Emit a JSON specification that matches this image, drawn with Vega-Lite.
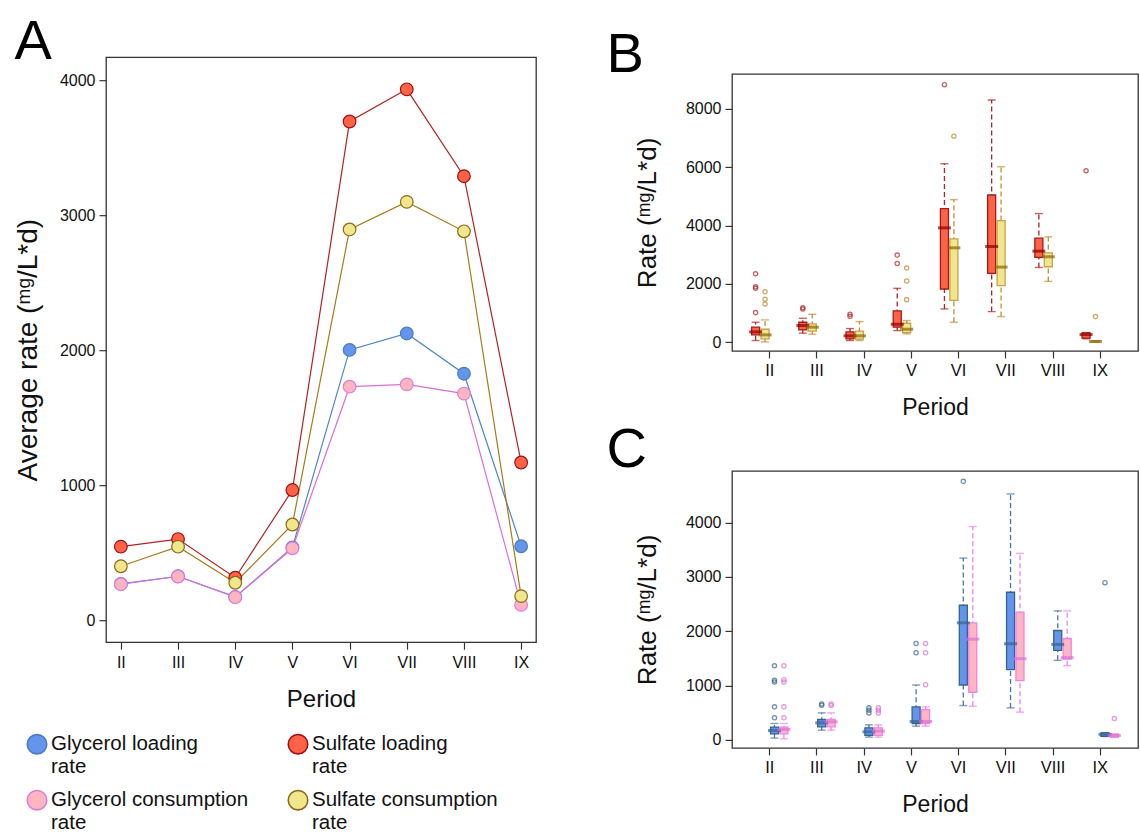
{
  "$schema": "https://vega.github.io/schema/vega-lite/v6.json",
  "padding": {"left": 13, "top": 13, "right": 0, "bottom": 0},
  "background": "white",
  "datasets": {
    "avg": [
      {"period": "II", "series": "Glycerol loading rate", "value": 271},
      {"period": "III", "series": "Glycerol loading rate", "value": 328},
      {"period": "IV", "series": "Glycerol loading rate", "value": 175},
      {"period": "V", "series": "Glycerol loading rate", "value": 541},
      {"period": "VI", "series": "Glycerol loading rate", "value": 2003},
      {"period": "VII", "series": "Glycerol loading rate", "value": 2125},
      {"period": "VIII", "series": "Glycerol loading rate", "value": 1827},
      {"period": "IX", "series": "Glycerol loading rate", "value": 550},
      {"period": "II", "series": "Glycerol consumption rate", "value": 269},
      {"period": "III", "series": "Glycerol consumption rate", "value": 326},
      {"period": "IV", "series": "Glycerol consumption rate", "value": 173},
      {"period": "V", "series": "Glycerol consumption rate", "value": 535},
      {"period": "VI", "series": "Glycerol consumption rate", "value": 1731},
      {"period": "VII", "series": "Glycerol consumption rate", "value": 1748},
      {"period": "VIII", "series": "Glycerol consumption rate", "value": 1680},
      {"period": "IX", "series": "Glycerol consumption rate", "value": 116},
      {"period": "II", "series": "Sulfate loading rate", "value": 547},
      {"period": "III", "series": "Sulfate loading rate", "value": 603},
      {"period": "IV", "series": "Sulfate loading rate", "value": 317},
      {"period": "V", "series": "Sulfate loading rate", "value": 966},
      {"period": "VI", "series": "Sulfate loading rate", "value": 3694},
      {"period": "VII", "series": "Sulfate loading rate", "value": 3932},
      {"period": "VIII", "series": "Sulfate loading rate", "value": 3289},
      {"period": "IX", "series": "Sulfate loading rate", "value": 1170},
      {"period": "II", "series": "Sulfate consumption rate", "value": 402},
      {"period": "III", "series": "Sulfate consumption rate", "value": 547},
      {"period": "IV", "series": "Sulfate consumption rate", "value": 280},
      {"period": "V", "series": "Sulfate consumption rate", "value": 711},
      {"period": "VI", "series": "Sulfate consumption rate", "value": 2895},
      {"period": "VII", "series": "Sulfate consumption rate", "value": 3099},
      {"period": "VIII", "series": "Sulfate consumption rate", "value": 2881},
      {"period": "IX", "series": "Sulfate consumption rate", "value": 181}
    ],
    "boxB": [
      {"period": "II", "series": "Sulfate loading rate", "lo": 57, "q1": 251, "med": 353, "q3": 513, "hi": 684},
      {"period": "III", "series": "Sulfate loading rate", "lo": 308, "q1": 422, "med": 570, "q3": 684, "hi": 820},
      {"period": "IV", "series": "Sulfate loading rate", "lo": 57, "q1": 114, "med": 217, "q3": 353, "hi": 467},
      {"period": "V", "series": "Sulfate loading rate", "lo": 399, "q1": 513, "med": 615, "q3": 1071, "hi": 1846},
      {"period": "VI", "series": "Sulfate loading rate", "lo": 1140, "q1": 1823, "med": 3920, "q3": 4581, "hi": 6120},
      {"period": "VII", "series": "Sulfate loading rate", "lo": 1048, "q1": 2359, "med": 3282, "q3": 5048, "hi": 8308},
      {"period": "VIII", "series": "Sulfate loading rate", "lo": 2564, "q1": 2906, "med": 3122, "q3": 3567, "hi": 4410},
      {"period": "IX", "series": "Sulfate loading rate", "lo": 114, "q1": 137, "med": 262, "q3": 319, "hi": 330},
      {"period": "II", "series": "Sulfate consumption rate", "lo": 10, "q1": 114, "med": 251, "q3": 444, "hi": 764},
      {"period": "III", "series": "Sulfate consumption rate", "lo": 274, "q1": 376, "med": 513, "q3": 627, "hi": 957},
      {"period": "IV", "series": "Sulfate consumption rate", "lo": 57, "q1": 103, "med": 217, "q3": 376, "hi": 707},
      {"period": "V", "series": "Sulfate consumption rate", "lo": 285, "q1": 330, "med": 444, "q3": 650, "hi": 741},
      {"period": "VI", "series": "Sulfate consumption rate", "lo": 684, "q1": 1436, "med": 3236, "q3": 3544, "hi": 4889},
      {"period": "VII", "series": "Sulfate consumption rate", "lo": 877, "q1": 1937, "med": 2575, "q3": 4171, "hi": 6017},
      {"period": "VIII", "series": "Sulfate consumption rate", "lo": 2085, "q1": 2587, "med": 2929, "q3": 3065, "hi": 3613},
      {"period": "IX", "series": "Sulfate consumption rate", "lo": 0, "q1": 10, "med": 25, "q3": 40, "hi": 46}
    ],
    "outB": [
      {"period": "II", "series": "Sulfate loading rate", "value": 2348},
      {"period": "II", "series": "Sulfate loading rate", "value": 1903},
      {"period": "II", "series": "Sulfate loading rate", "value": 1846},
      {"period": "II", "series": "Sulfate loading rate", "value": 1014},
      {"period": "III", "series": "Sulfate loading rate", "value": 1180},
      {"period": "III", "series": "Sulfate loading rate", "value": 1140},
      {"period": "IV", "series": "Sulfate loading rate", "value": 960},
      {"period": "IV", "series": "Sulfate loading rate", "value": 890},
      {"period": "V", "series": "Sulfate loading rate", "value": 2986},
      {"period": "V", "series": "Sulfate loading rate", "value": 2701},
      {"period": "VI", "series": "Sulfate loading rate", "value": 8832},
      {"period": "IX", "series": "Sulfate loading rate", "value": 5880},
      {"period": "II", "series": "Sulfate consumption rate", "value": 1732},
      {"period": "II", "series": "Sulfate consumption rate", "value": 1470},
      {"period": "II", "series": "Sulfate consumption rate", "value": 1310},
      {"period": "V", "series": "Sulfate consumption rate", "value": 2541},
      {"period": "V", "series": "Sulfate consumption rate", "value": 2097},
      {"period": "V", "series": "Sulfate consumption rate", "value": 1459},
      {"period": "VI", "series": "Sulfate consumption rate", "value": 7066},
      {"period": "IX", "series": "Sulfate consumption rate", "value": 877}
    ],
    "boxC": [
      {"period": "II", "series": "Glycerol loading rate", "lo": 31, "q1": 110, "med": 171, "q3": 232, "hi": 300},
      {"period": "III", "series": "Glycerol loading rate", "lo": 177, "q1": 239, "med": 312, "q3": 373, "hi": 495},
      {"period": "IV", "series": "Glycerol loading rate", "lo": 49, "q1": 80, "med": 147, "q3": 220, "hi": 275},
      {"period": "V", "series": "Glycerol loading rate", "lo": 251, "q1": 300, "med": 336, "q3": 606, "hi": 1009},
      {"period": "VI", "series": "Glycerol loading rate", "lo": 630, "q1": 1009, "med": 2153, "q3": 2477, "hi": 3346},
      {"period": "VII", "series": "Glycerol loading rate", "lo": 587, "q1": 1291, "med": 1768, "q3": 2716, "hi": 4526},
      {"period": "VIII", "series": "Glycerol loading rate", "lo": 1462, "q1": 1645, "med": 1755, "q3": 2012, "hi": 2373},
      {"period": "IX", "series": "Glycerol loading rate", "lo": 61, "q1": 61, "med": 100, "q3": 128, "hi": 128},
      {"period": "II", "series": "Glycerol consumption rate", "lo": 18, "q1": 110, "med": 190, "q3": 232, "hi": 300},
      {"period": "III", "series": "Glycerol consumption rate", "lo": 177, "q1": 239, "med": 330, "q3": 373, "hi": 495},
      {"period": "IV", "series": "Glycerol consumption rate", "lo": 49, "q1": 80, "med": 159, "q3": 220, "hi": 275},
      {"period": "V", "series": "Glycerol consumption rate", "lo": 251, "q1": 300, "med": 336, "q3": 557, "hi": 606},
      {"period": "VI", "series": "Glycerol consumption rate", "lo": 618, "q1": 875, "med": 1853, "q3": 2153, "hi": 3927},
      {"period": "VII", "series": "Glycerol consumption rate", "lo": 508, "q1": 1089, "med": 1492, "q3": 2349, "hi": 3431},
      {"period": "VIII", "series": "Glycerol consumption rate", "lo": 1364, "q1": 1486, "med": 1511, "q3": 1865, "hi": 2373},
      {"period": "IX", "series": "Glycerol consumption rate", "lo": 49, "q1": 49, "med": 80, "q3": 104, "hi": 104}
    ],
    "outC": [
      {"period": "II", "series": "Glycerol loading rate", "value": 1364},
      {"period": "II", "series": "Glycerol loading rate", "value": 1095},
      {"period": "II", "series": "Glycerol loading rate", "value": 1064},
      {"period": "II", "series": "Glycerol loading rate", "value": 606},
      {"period": "II", "series": "Glycerol loading rate", "value": 404},
      {"period": "III", "series": "Glycerol loading rate", "value": 660},
      {"period": "III", "series": "Glycerol loading rate", "value": 636},
      {"period": "IV", "series": "Glycerol loading rate", "value": 587},
      {"period": "IV", "series": "Glycerol loading rate", "value": 544},
      {"period": "IV", "series": "Glycerol loading rate", "value": 495},
      {"period": "V", "series": "Glycerol loading rate", "value": 1774},
      {"period": "V", "series": "Glycerol loading rate", "value": 1602},
      {"period": "VI", "series": "Glycerol loading rate", "value": 4758},
      {"period": "IX", "series": "Glycerol loading rate", "value": 2893},
      {"period": "II", "series": "Glycerol consumption rate", "value": 1364},
      {"period": "II", "series": "Glycerol consumption rate", "value": 1107},
      {"period": "II", "series": "Glycerol consumption rate", "value": 1064},
      {"period": "II", "series": "Glycerol consumption rate", "value": 606},
      {"period": "II", "series": "Glycerol consumption rate", "value": 404},
      {"period": "III", "series": "Glycerol consumption rate", "value": 660},
      {"period": "III", "series": "Glycerol consumption rate", "value": 630},
      {"period": "IV", "series": "Glycerol consumption rate", "value": 587},
      {"period": "IV", "series": "Glycerol consumption rate", "value": 544},
      {"period": "IV", "series": "Glycerol consumption rate", "value": 495},
      {"period": "V", "series": "Glycerol consumption rate", "value": 1774},
      {"period": "V", "series": "Glycerol consumption rate", "value": 1602},
      {"period": "V", "series": "Glycerol consumption rate", "value": 1015},
      {"period": "IX", "series": "Glycerol consumption rate", "value": 391}
    ]
  },
  "hconcat": [
    {
      "width": 430,
      "height": 585,
      "title": {"text": "A", "fontSize": 56, "fontWeight": "normal", "anchor": "start", "frame": "bounds", "offset": -5, "dy": 9},
      "data": {"name": "avg"},
      "encoding": {
        "x": {"field": "period", "type": "ordinal", "sort": ["II", "III", "IV", "V", "VI", "VII", "VIII", "IX"], "scale": {"type": "point", "padding": 0.26}, "axis": {"title": "Period", "labelFontSize": 16, "titleFontSize": 24, "labelPadding": 5, "titlePadding": 17}},
        "y": {"field": "value", "type": "quantitative", "title": "Average rate (ᵐᵍ/L*d)", "scale": {"domain": [-160, 4170], "nice": false, "zero": false}, "axis": {"values": [0, 1000, 2000, 3000, 4000], "format": "d", "labelFontSize": 16, "titleFontSize": 28, "labelPadding": 4, "titlePadding": 17}}
      },
      "layer": [
        {
          "mark": {"type": "line", "strokeWidth": 1.2},
          "encoding": {
            "color": {"field": "series", "type": "nominal", "scale": {"domain": ["Glycerol loading rate", "Glycerol consumption rate", "Sulfate loading rate", "Sulfate consumption rate"], "range": ["#4F87C4", "#DA70D6", "#B22222", "#A67C1A"]}, "legend": null}
          }
        },
        {
          "mark": {"type": "point", "shape": "circle", "filled": true, "size": 160, "strokeWidth": 1.2, "opacity": 1},
          "encoding": {
            "fill": {"field": "series", "type": "nominal", "scale": {"domain": ["Glycerol loading rate", "Glycerol consumption rate", "Sulfate loading rate", "Sulfate consumption rate"], "range": ["#6495ED", "#FFB6C1", "#FF6347", "#F0E68C"]}, "legend": {"title": null, "orient": "none", "legendX": -80, "legendY": 676, "columns": 2, "columnPadding": 36, "rowPadding": 10, "symbolSize": 380, "symbolStrokeWidth": 1.6, "labelFontSize": 20.5, "labelOffset": 3, "labelLimit": 400, "labelExpr": "[replace(datum.label, ' rate', ''), 'rate']"}},
            "stroke": {"field": "series", "type": "nominal", "scale": {"domain": ["Glycerol loading rate", "Glycerol consumption rate", "Sulfate loading rate", "Sulfate consumption rate"], "range": ["#4A7EBB", "#E07BE0", "#A01010", "#8B6914"]}, "legend": {"title": null, "orient": "none", "legendX": -80, "legendY": 676, "columns": 2, "columnPadding": 36, "rowPadding": 10, "symbolSize": 380, "symbolStrokeWidth": 1.6, "labelFontSize": 20.5, "labelOffset": 3, "labelLimit": 400, "labelExpr": "[replace(datum.label, ' rate', ''), 'rate']"}}
          }
        }
      ],
      "resolve": {"scale": {"color": "independent", "fill": "independent", "stroke": "independent"}}
    },
    {
      "vconcat": [
        {
          "width": 406,
          "height": 277,
          "title": {"text": ["", "B"], "lineHeight": 10, "fontSize": 56, "fontWeight": "normal", "anchor": "start", "frame": "bounds", "dx": -28, "offset": 0, "dy": 10},
          "encoding": {
            "x": {"field": "period", "type": "nominal", "sort": ["II", "III", "IV", "V", "VI", "VII", "VIII", "IX"], "scale": {"type": "band", "paddingInner": 0, "paddingOuter": 0.3}, "axis": {"title": "Period", "bandPosition": 0.5, "labelFontSize": 16.5, "titleFontSize": 23, "labelPadding": 5, "titlePadding": 17}},
            "xOffset": {"field": "series", "type": "nominal", "scale": {"domain": ["Sulfate loading rate", "Sulfate consumption rate"], "paddingInner": 0.15, "paddingOuter": 0.575}}
          },
          "layer": [
            {
              "data": {"name": "boxB"},
              "mark": {"type": "rule", "strokeDash": [5, 3], "strokeWidth": 1.3},
              "encoding": {
                "y": {"field": "lo", "type": "quantitative", "title": "Rate (ᵐᵍ/L*d)", "scale": {"domain": [-300, 9200], "nice": false, "zero": false}, "axis": {"values": [0, 2000, 4000, 6000, 8000], "format": "d", "labelFontSize": 16, "titleFontSize": 26, "labelPadding": 4, "titlePadding": 25}},
                "y2": {"field": "hi"},
                "color": {"field": "series", "type": "nominal", "scale": {"domain": ["Sulfate loading rate", "Sulfate consumption rate"], "range": ["#B22222", "#C09030"]}, "legend": null}
              }
            },
            {
              "data": {"name": "boxB"},
              "mark": {"type": "tick", "size": 8, "thickness": 1.4},
              "encoding": {
                "y": {"field": "lo", "type": "quantitative", "title": "Rate (ᵐᵍ/L*d)", "scale": {"domain": [-300, 9200], "nice": false, "zero": false}},
                "color": {"field": "series", "type": "nominal", "scale": {"domain": ["Sulfate loading rate", "Sulfate consumption rate"], "range": ["#B22222", "#C09030"]}, "legend": null}
              }
            },
            {
              "data": {"name": "boxB"},
              "mark": {"type": "tick", "size": 8, "thickness": 1.4},
              "encoding": {
                "y": {"field": "hi", "type": "quantitative", "title": "Rate (ᵐᵍ/L*d)", "scale": {"domain": [-300, 9200], "nice": false, "zero": false}},
                "color": {"field": "series", "type": "nominal", "scale": {"domain": ["Sulfate loading rate", "Sulfate consumption rate"], "range": ["#B22222", "#C09030"]}, "legend": null}
              }
            },
            {
              "data": {"name": "boxB"},
              "mark": {"type": "bar", "strokeWidth": 1.3},
              "encoding": {
                "y": {"field": "q1", "type": "quantitative", "title": "Rate (ᵐᵍ/L*d)", "scale": {"domain": [-300, 9200], "nice": false, "zero": false}},
                "y2": {"field": "q3"},
                "fill": {"field": "series", "type": "nominal", "scale": {"domain": ["Sulfate loading rate", "Sulfate consumption rate"], "range": ["#FF6347", "#F0E68C"]}, "legend": null},
                "stroke": {"field": "series", "type": "nominal", "scale": {"domain": ["Sulfate loading rate", "Sulfate consumption rate"], "range": ["#A51B1B", "#C8A050"]}, "legend": null}
              }
            },
            {
              "data": {"name": "boxB"},
              "mark": {"type": "tick", "size": 13, "thickness": 3},
              "encoding": {
                "y": {"field": "med", "type": "quantitative", "title": "Rate (ᵐᵍ/L*d)", "scale": {"domain": [-300, 9200], "nice": false, "zero": false}},
                "color": {"field": "series", "type": "nominal", "scale": {"domain": ["Sulfate loading rate", "Sulfate consumption rate"], "range": ["#8B0000", "#8B6508"]}, "legend": null}
              }
            },
            {
              "data": {"name": "outB"},
              "mark": {"type": "point", "shape": "circle", "filled": false, "size": 18, "strokeWidth": 1.3},
              "encoding": {
                "y": {"field": "value", "type": "quantitative", "title": "Rate (ᵐᵍ/L*d)", "scale": {"domain": [-300, 9200], "nice": false, "zero": false}},
                "color": {"field": "series", "type": "nominal", "scale": {"domain": ["Sulfate loading rate", "Sulfate consumption rate"], "range": ["#B22222", "#B8862B"]}, "legend": null}
              }
            }
          ],
          "resolve": {"scale": {"color": "independent", "fill": "independent", "stroke": "independent"}}
        },
        {
          "width": 406,
          "height": 277,
          "title": {"text": "C", "fontSize": 56, "fontWeight": "normal", "anchor": "start", "frame": "bounds", "dx": -28, "offset": -7, "dy": 1},
          "encoding": {
            "x": {"field": "period", "type": "nominal", "sort": ["II", "III", "IV", "V", "VI", "VII", "VIII", "IX"], "scale": {"type": "band", "paddingInner": 0, "paddingOuter": 0.3}, "axis": {"title": "Period", "bandPosition": 0.5, "labelFontSize": 16.5, "titleFontSize": 23, "labelPadding": 5, "titlePadding": 17}},
            "xOffset": {"field": "series", "type": "nominal", "scale": {"domain": ["Glycerol loading rate", "Glycerol consumption rate"], "paddingInner": 0.15, "paddingOuter": 0.575}}
          },
          "layer": [
            {
              "data": {"name": "boxC"},
              "mark": {"type": "rule", "strokeDash": [5, 3], "strokeWidth": 1.3},
              "encoding": {
                "y": {"field": "lo", "type": "quantitative", "title": "Rate (ᵐᵍ/L*d)", "scale": {"domain": [-150, 4950], "nice": false, "zero": false}, "axis": {"values": [0, 1000, 2000, 3000, 4000], "format": "d", "labelFontSize": 16, "titleFontSize": 26, "labelPadding": 4, "titlePadding": 25}},
                "y2": {"field": "hi"},
                "color": {"field": "series", "type": "nominal", "scale": {"domain": ["Glycerol loading rate", "Glycerol consumption rate"], "range": ["#4A74A0", "#EE82EE"]}, "legend": null}
              }
            },
            {
              "data": {"name": "boxC"},
              "mark": {"type": "tick", "size": 8, "thickness": 1.4},
              "encoding": {
                "y": {"field": "lo", "type": "quantitative", "title": "Rate (ᵐᵍ/L*d)", "scale": {"domain": [-150, 4950], "nice": false, "zero": false}},
                "color": {"field": "series", "type": "nominal", "scale": {"domain": ["Glycerol loading rate", "Glycerol consumption rate"], "range": ["#4A74A0", "#EE82EE"]}, "legend": null}
              }
            },
            {
              "data": {"name": "boxC"},
              "mark": {"type": "tick", "size": 8, "thickness": 1.4},
              "encoding": {
                "y": {"field": "hi", "type": "quantitative", "title": "Rate (ᵐᵍ/L*d)", "scale": {"domain": [-150, 4950], "nice": false, "zero": false}},
                "color": {"field": "series", "type": "nominal", "scale": {"domain": ["Glycerol loading rate", "Glycerol consumption rate"], "range": ["#4A74A0", "#EE82EE"]}, "legend": null}
              }
            },
            {
              "data": {"name": "boxC"},
              "mark": {"type": "bar", "strokeWidth": 1.3},
              "encoding": {
                "y": {"field": "q1", "type": "quantitative", "title": "Rate (ᵐᵍ/L*d)", "scale": {"domain": [-150, 4950], "nice": false, "zero": false}},
                "y2": {"field": "q3"},
                "fill": {"field": "series", "type": "nominal", "scale": {"domain": ["Glycerol loading rate", "Glycerol consumption rate"], "range": ["#6495ED", "#FFB6C1"]}, "legend": null},
                "stroke": {"field": "series", "type": "nominal", "scale": {"domain": ["Glycerol loading rate", "Glycerol consumption rate"], "range": ["#36648B", "#EE82EE"]}, "legend": null}
              }
            },
            {
              "data": {"name": "boxC"},
              "mark": {"type": "tick", "size": 13, "thickness": 3},
              "encoding": {
                "y": {"field": "med", "type": "quantitative", "title": "Rate (ᵐᵍ/L*d)", "scale": {"domain": [-150, 4950], "nice": false, "zero": false}},
                "color": {"field": "series", "type": "nominal", "scale": {"domain": ["Glycerol loading rate", "Glycerol consumption rate"], "range": ["#36648B", "#DA70D6"]}, "legend": null}
              }
            },
            {
              "data": {"name": "outC"},
              "mark": {"type": "point", "shape": "circle", "filled": false, "size": 18, "strokeWidth": 1.3},
              "encoding": {
                "y": {"field": "value", "type": "quantitative", "title": "Rate (ᵐᵍ/L*d)", "scale": {"domain": [-150, 4950], "nice": false, "zero": false}},
                "color": {"field": "series", "type": "nominal", "scale": {"domain": ["Glycerol loading rate", "Glycerol consumption rate"], "range": ["#36648B", "#DA70D6"]}, "legend": null}
              }
            }
          ],
          "resolve": {"scale": {"color": "independent", "fill": "independent", "stroke": "independent"}}
        }
      ],
      "spacing": 0,
      "resolve": {"scale": {"color": "independent", "fill": "independent", "stroke": "independent"}, "legend": {"color": "independent", "fill": "independent", "stroke": "independent"}}
    }
  ],
  "spacing": 68,
  "center": true,
  "resolve": {"scale": {"color": "independent", "fill": "independent", "stroke": "independent"}, "legend": {"color": "independent", "fill": "independent", "stroke": "independent"}},
  "config": {
    "font": "Liberation Sans",
    "view": {"stroke": "#333333", "strokeWidth": 1.3},
    "axis": {"domain": false, "grid": false, "tickColor": "#333333", "tickSize": 7, "tickWidth": 1.2, "labelColor": "#111111", "titleColor": "#111111", "titleFontWeight": "normal", "labelFont": "Liberation Sans", "titleFont": "Liberation Sans"},
    "axisX": {"labelAngle": 0},
    "legend": {"labelFont": "Liberation Sans", "labelColor": "#111111"},
    "title": {"font": "Liberation Sans", "color": "#000000"}
  }
}
